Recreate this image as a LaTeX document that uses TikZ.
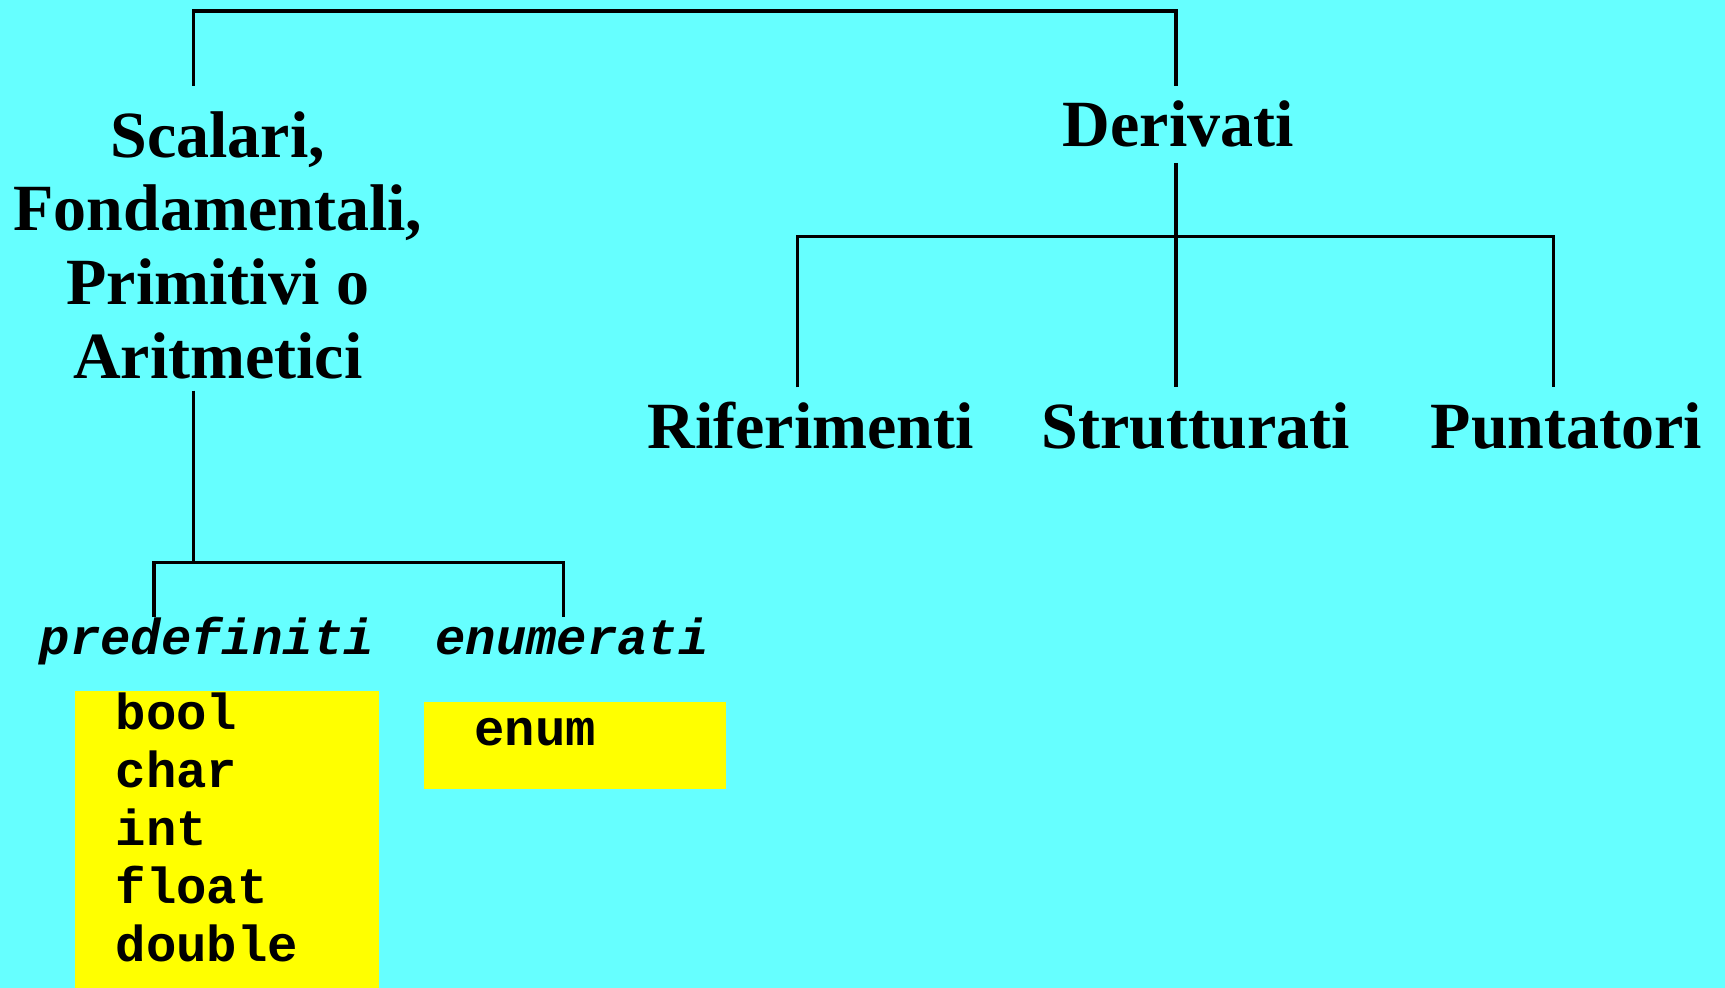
\documentclass[tikz,border=0pt]{standalone}
\usepackage{fontspec}
\setmainfont{Liberation Serif}
\setmonofont{Liberation Mono}
\definecolor{bgcyan}{RGB}{102,255,255}
\definecolor{boxyellow}{RGB}{255,255,0}
\begin{document}
\begin{tikzpicture}[x=1pt,y=-1pt,
  conn/.style={line width=3pt},
  head/.style={inner sep=0pt, font=\fontsize{60}{67}\selectfont\bfseries},
  cat/.style={inner sep=0pt, font=\fontsize{46}{52.5}\selectfont\ttfamily\bfseries\itshape},
  mono/.style={inner sep=0pt, font=\fontsize{46}{52.5}\selectfont\ttfamily\bfseries},
  ybox/.style={fill=boxyellow, draw=none, inner sep=0pt, anchor=north west}]
\fill[bgcyan] (0,0) rectangle (1568,898);
\useasboundingbox (0,0) rectangle (1568,898);

% text nodes
\node[head, anchor=north, align=center] (scal) at (198,101) {Scalari,\\Fondamentali,\\Primitivi o\\Aritmetici};
\node[head, anchor=base] (der) at (1071,133) {Derivati};
\node[head, anchor=base] (rif) at (737,408) {Riferimenti};
\node[head, anchor=base] (str) at (1087,408) {Strutturati};
\node[head, anchor=base] (pun) at (1424,408) {Puntatori};
\node[cat, anchor=base] (pre) at (188,595) {predefiniti};
\node[cat, anchor=base] (enu) at (520,595) {enumerati};

% yellow boxes
\node[ybox, minimum width=276pt, minimum height=272pt] (pbox) at (68,628) {};
\node[ybox, minimum width=275pt, minimum height=79pt] (ebox) at (385,638) {};
\node[mono, anchor=north west, align=left] (plist) at (105,630) {bool\\char\\int\\float\\double};
\node[mono, anchor=base west] (elist) at (431,678) {enum};

% connector end points
\coordinate (sTop) at (176,78);
\coordinate (dCorner) at (1069,10);
\coordinate (dTop) at (1069,78);
\coordinate (dBot) at (1069,148);
\coordinate (strTop) at (1069,352);
\coordinate (rifTop) at (725,352);
\coordinate (punCorner) at (1412,215);
\coordinate (punTop) at (1412,352);
\coordinate (sBot) at (176,355);
\coordinate (sJoin) at (176,511);
\coordinate (preTop) at (140,561);
\coordinate (enuCorner) at (512,511);
\coordinate (enuTop) at (512,561);

% connectors
\draw[conn] (sTop) |- (dCorner) -- (dTop);
\draw[conn] (dBot) -- (strTop);
\draw[conn] (rifTop) |- (punCorner) -- (punTop);
\draw[conn] (sBot) -- (sJoin);
\draw[conn] (preTop) |- (enuCorner) -- (enuTop);
\end{tikzpicture}
\end{document}
